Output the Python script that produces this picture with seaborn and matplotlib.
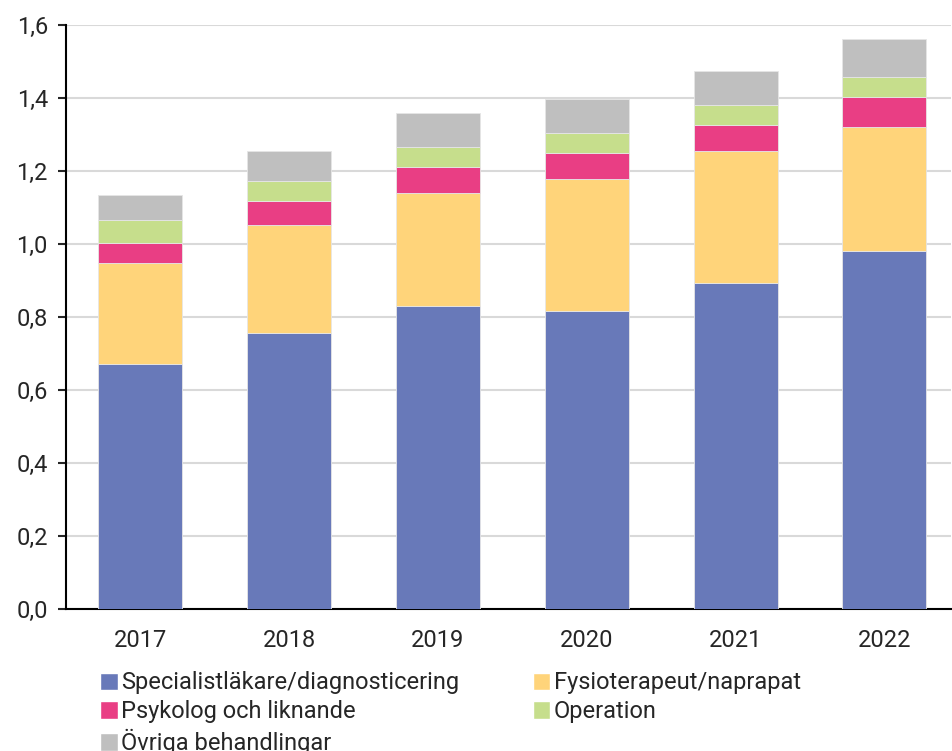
import numpy as np
import pandas as pd
import matplotlib
matplotlib.use('Agg')
import matplotlib.pyplot as plt
import seaborn as sns
from matplotlib.patches import Patch
from matplotlib.ticker import FuncFormatter

# --- data ---
years = ['2017', '2018', '2019', '2020', '2021', '2022']
specialist = [0.672, 0.755, 0.831, 0.815, 0.892, 0.980]
fysio = [0.277, 0.296, 0.308, 0.362, 0.362, 0.340]
psykolog = [0.053, 0.066, 0.071, 0.072, 0.071, 0.082]
operation = [0.063, 0.055, 0.055, 0.054, 0.055, 0.055]
ovriga = [0.068, 0.082, 0.093, 0.094, 0.094, 0.104]

labels = ['Specialistläkare/diagnosticering', 'Fysioterapeut/naprapat',
          'Psykolog och liknande', 'Operation', 'Övriga behandlingar']
colors = ['#6879B9', '#FFD47A', '#E93E84', '#C6DE8C', '#BFBFBF']

sns.set_style('white')
plt.rcParams['font.family'] = ['Roboto', 'DejaVu Sans']
plt.rcParams['font.size'] = 17

fig = plt.figure(figsize=(9.52, 7.51), dpi=100)
ax = fig.add_axes([0.0693, 0.189, 0.93, 0.778])

series = [specialist, fysio, psykolog, operation, ovriga]
bottom = np.zeros(len(years))
for vals, col in zip(series, colors):
    sns.barplot(x=years, y=vals, bottom=bottom, color=col, saturation=1,
                width=0.565, edgecolor='#e6e6e6', linewidth=0.6, ax=ax, zorder=3)
    bottom = bottom + np.array(vals)

ax.set_ylim(0, 1.6)
ax.set_xlim(-0.5, 5.45)
ax.set_yticks(np.arange(0, 1.61, 0.2))
ax.yaxis.set_major_formatter(FuncFormatter(lambda v, p: f'{v:.1f}'.replace('.', ',')))
ax.grid(axis='y', color='#d9d9d9', linewidth=1.5, zorder=0)
ax.set_axisbelow(True)
ax.set_xlabel('')
ax.set_ylabel('')

for s in ['top', 'right']:
    ax.spines[s].set_visible(False)
ax.spines['left'].set_color('black')
ax.spines['left'].set_linewidth(1.5)
ax.spines['bottom'].set_color('black')
ax.spines['bottom'].set_linewidth(1.5)
ax.tick_params(axis='y', left=True, length=6, width=1.5, labelsize=17, pad=7)
ax.tick_params(axis='x', bottom=False, labelsize=17, pad=11)

# legend in row order: 2 columns
order = [0, 2, 4, 1, 3]
handles = [Patch(facecolor=colors[i], label=labels[i]) for i in order]
fig.legend(handles=handles, loc='upper left', bbox_to_anchor=(0.105, 0.106),
           ncol=2, frameon=False, fontsize=17, handlelength=0.75, handleheight=0.75,
           handletextpad=0.15, columnspacing=3.1, labelspacing=0.25, borderaxespad=0,
           borderpad=0)

fig.savefig('out.png', dpi=100)
